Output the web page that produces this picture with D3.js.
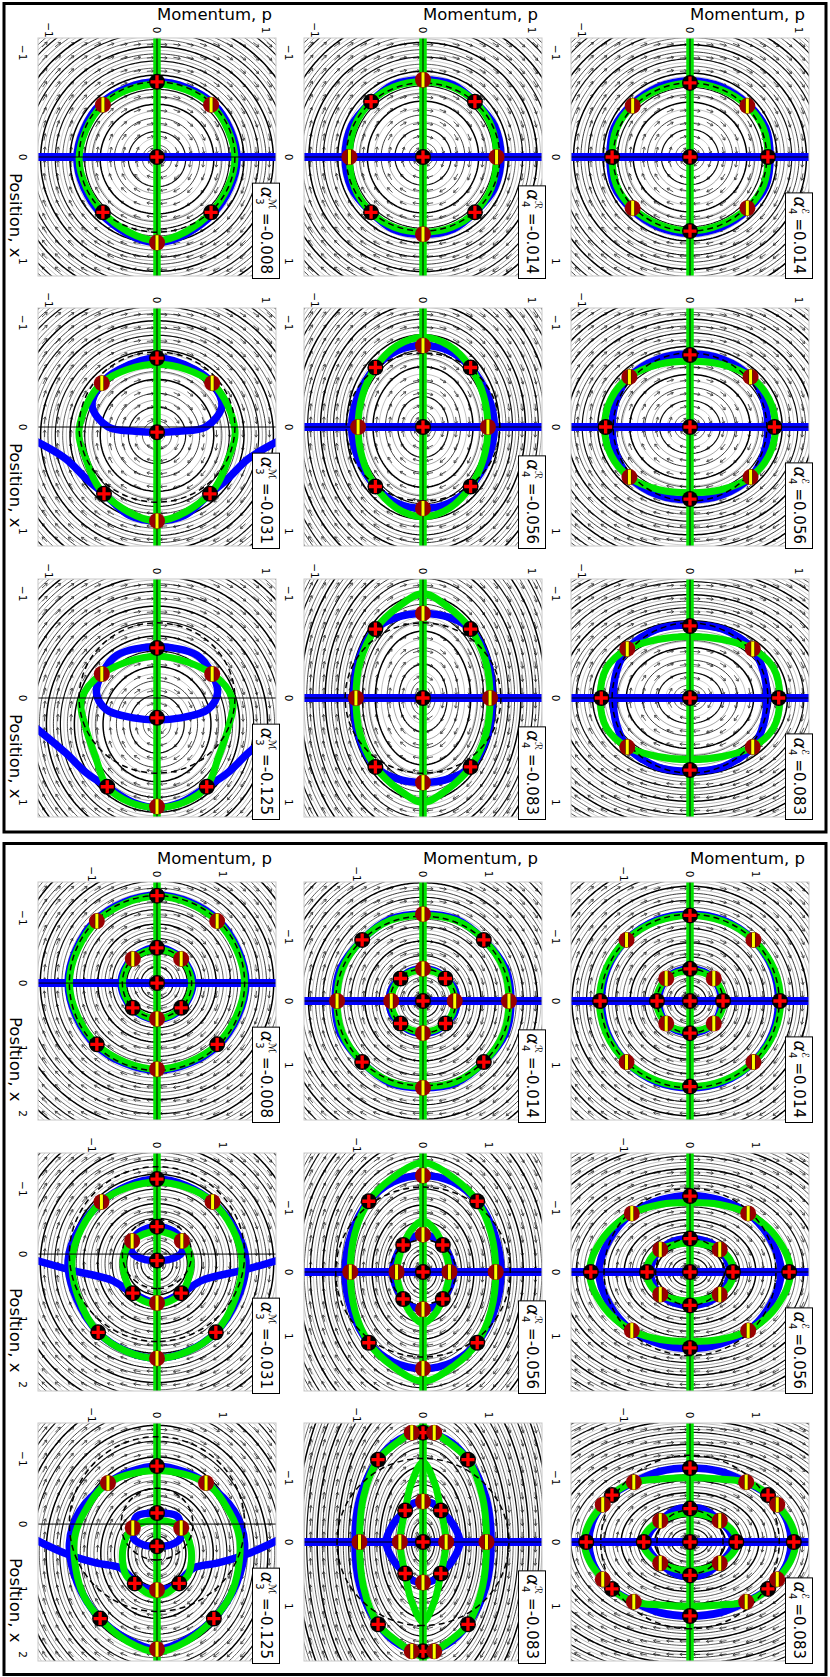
<!DOCTYPE html>
<html>
<head>
<meta charset="utf-8">
<script src="https://cdn.jsdelivr.net/npm/d3@7"></script>
<style>
  body { margin: 0; background: #fff; }
  svg text { font-family: 'DejaVu Sans', sans-serif; }
</style>
</head>
<body>
<div id="chart"></div>
<script>
// panel keys: box (1 = one ring, 2 = two rings) + kind (e, R, M) + column index
const kinds = ['e', 'R', 'M'];
const kindLetter = { e: 'ℰ', R: 'ℛ', M: 'ℳ' };
const kindSub = { e: '4', R: '4', M: '3' };
const alphaE = ['=0.014', '=0.056', '=0.083'];
const alphaR = ['=-0.014', '=-0.056', '=-0.083'];
const alphaM = ['=-0.008', '=-0.031', '=-0.125'];
const ticks = [-1, 0, 1];
const ticksWide = [-1, 0, 1, 2];

// fixed points (x, p): quadrant for e/R, upper half for M
const centerPts = {
  '1e0': [[0, 0], [0.71, 0], [0, 0.72]],
  '1e1': [[0, 0], [0.69, 0], [0, 0.78]],
  '1e2': [[0, 0], [0.69, 0], [0, 0.82]],
  '1R0': [[0, 0], [0.53, 0.48]],
  '1R1': [[0, 0], [0.57, 0.44]],
  '1R2': [[0, 0], [0.66, 0.44]],
  '1M0': [[0, 0], [-0.72, 0], [0.53, 0.5]],
  '1M1': [[0.05, 0], [-0.66, 0], [0.64, 0.49]],
  '1M2': [[0.19, 0], [-0.48, 0], [0.85, 0.46]],
  '2e0': [[0, 0], [0.5, 0], [0, 0.5], [1.33, 0], [0, 1.36]],
  '2e1': [[0, 0], [0.52, 0], [0, 0.65], [1.18, 0], [0, 1.5]],
  '2e2': [[0, 0], [0.52, 0], [0, 0.7], [1.15, 0], [0, 1.57], [0.73, 1.18]],
  '2R0': [[0, 0], [0.35, 0.34], [0.95, 0.92]],
  '2R1': [[0, 0], [0.42, 0.3], [1.1, 0.82]],
  '2R2': [[0, 0], [0.49, 0.27], [1.28, 0.68], [1.7, 0]],
  '2M0': [[0, 0], [-0.54, 0], [0.38, 0.37], [-1.34, 0], [0.94, 0.92]],
  '2M1': [[0.1, 0], [-0.42, 0], [0.6, 0.37], [-1.15, 0], [1.2, 0.9]],
  '2M2': [[0.34, 0], [-0.17, 0], [0.91, 0.34], [-0.89, 0], [1.45, 0.87]]
};
const saddlePts = {
  '1e0': [[0.49, 0.53]],
  '1e1': [[0.48, 0.56]],
  '1e2': [[0.47, 0.58]],
  '1R0': [[0.74, 0], [0, 0.68]],
  '1R1': [[0.78, 0], [0, 0.6]],
  '1R2': [[0.81, 0], [0, 0.62]],
  '1M0': [[0.82, 0], [-0.5, 0.5]],
  '1M1': [[0.9, 0], [-0.42, 0.51]],
  '1M2': [[1.04, 0], [-0.23, 0.51]],
  '2e0': [[0.35, 0.36], [0.95, 0.96]],
  '2e1': [[0.35, 0.45], [0.91, 0.88]],
  '2e2': [[0.33, 0.45], [0.93, 0.85], [0.58, 1.32]],
  '2R0': [[0.5, 0], [0, 0.48], [1.35, 0], [0, 1.3]],
  '2R1': [[0.58, 0], [0, 0.4], [1.5, 0], [0, 1.1]],
  '2R2': [[0.63, 0], [0, 0.35], [0, 0.96], [1.7, 0.17]],
  '2M0': [[-0.37, 0.37], [0.55, 0], [-0.95, 0.92], [1.32, 0]],
  '2M1': [[-0.2, 0.38], [0.75, 0], [-0.8, 0.85], [1.6, 0]],
  '2M2': [[0.06, 0.37], [1.01, 0], [-0.63, 0.75], [1.92, 0]]
};

// nullcline loops dx/dt = 0 (green) and dp/dt = 0 (blue)
const greenLoops = {
  '1e0': [[[0.71, 0], [0.65, 0.28], [0.49, 0.53], [0.27, 0.68], [0, 0.72]]],
  '1e1': [[[0.63, 0], [0.6, 0.29], [0.48, 0.56], [0.27, 0.73], [0, 0.79]]],
  '1e2': [[[0.59, 0], [0.56, 0.3], [0.47, 0.58], [0.29, 0.77], [0, 0.83]]],
  '1R0': [[[0.72, 0], [0.67, 0.27], [0.53, 0.48], [0.3, 0.63], [0, 0.68]]],
  '1R1': [[[0.86, 0], [0.78, 0.24], [0.57, 0.44], [0.3, 0.56], [0, 0.6]]],
  '1R2': [[[1.0, 0], [0.88, 0.22], [0.66, 0.44], [0.35, 0.58], [0, 0.62]]],
  '1M0': [[[-0.7, 0], [-0.5, 0.5], [0.02, 0.72], [0.53, 0.5], [0.8, 0]]],
  '1M1': [[[-0.6, 0], [-0.42, 0.51], [0.02, 0.72], [0.3, 0.66], [0.64, 0.49], [0.9, 0]]],
  '1M2': [[[-0.4, 0], [-0.23, 0.51], [0.02, 0.7], [0.28, 0.66], [0.56, 0.57], [0.85, 0.46], [1.0, 0.25], [1.05, 0]]],
  '2e0': [[[0.47, 0], [0.44, 0.2], [0.35, 0.36], [0.2, 0.46], [0, 0.51]],
          [[1.33, 0], [1.24, 0.5], [0.95, 0.96], [0.5, 1.27], [0, 1.37]]],
  '2e1': [[[0.45, 0], [0.42, 0.25], [0.35, 0.45], [0.2, 0.6], [0, 0.66]],
          [[1.08, 0], [1.05, 0.45], [0.91, 0.88], [0.55, 1.3], [0, 1.52]]],
  '2e2': [[[0.45, 0], [0.42, 0.22], [0.33, 0.45], [0.18, 0.64], [0, 0.72]],
          [[1.0, 0], [0.98, 0.45], [0.93, 0.85], [0.74, 1.18], [0.58, 1.32], [0.3, 1.52], [0, 1.6]]],
  '2R0': [[[0.48, 0], [0.45, 0.18], [0.35, 0.34], [0.18, 0.45], [0, 0.48]],
          [[1.33, 0], [1.25, 0.5], [0.95, 0.92], [0.5, 1.22], [0, 1.3]]],
  '2R1': [[[0.8, 0], [0.65, 0.18], [0.42, 0.3], [0.2, 0.37], [0, 0.4]],
          [[1.7, 0], [1.45, 0.48], [1.1, 0.82], [0.6, 1.03], [0, 1.1]]],
  '2R2': [[[1.24, 0], [0.9, 0.18], [0.49, 0.27], [0.25, 0.32], [0, 0.35]],
          [[1.78, 0], [1.7, 0.17], [1.5, 0.45], [1.28, 0.68], [0.7, 0.9], [0, 0.96]]],
  '2M0': [[[-0.52, 0], [-0.37, 0.37], [0, 0.53], [0.38, 0.37], [0.55, 0]],
          [[-1.33, 0], [-0.95, 0.92], [0, 1.34], [0.94, 0.92], [1.32, 0]]],
  '2M1': [[[-0.35, 0], [-0.2, 0.38], [0.1, 0.52], [0.6, 0.37], [0.77, 0]],
          [[-1.1, 0], [-0.8, 0.85], [0.1, 1.3], [1.2, 0.9], [1.6, 0]]],
  '2M2': [[[-0.06, 0], [0.06, 0.37], [0.37, 0.52], [0.77, 0.48], [0.91, 0.34], [1.06, 0.15], [1.1, 0]],
          [[-0.82, 0], [-0.63, 0.75], [-0.2, 1.1], [0.2, 1.26], [0.7, 1.24], [1.1, 1.12], [1.45, 0.87], [1.8, 0.45], [1.96, 0]]]
};
const blueLoops = {
  '1e0': [[[0.73, 0], [0.67, 0.29], [0.5, 0.54], [0.28, 0.7], [0, 0.74]]],
  '1e1': [[[0.7, 0], [0.65, 0.3], [0.48, 0.56], [0.26, 0.68], [0, 0.72]]],
  '1e2': [[[0.7, 0], [0.66, 0.3], [0.47, 0.58], [0.25, 0.68], [0, 0.71]]],
  '1R0': [[[0.74, 0], [0.69, 0.28], [0.53, 0.48], [0.3, 0.66], [0, 0.72]]],
  '1R1': [[[0.78, 0], [0.73, 0.24], [0.57, 0.44], [0.3, 0.6], [0, 0.66]]],
  '1R2': [[[0.81, 0], [0.77, 0.25], [0.66, 0.44], [0.35, 0.6], [0, 0.64]]],
  '1M0': [[[-0.72, 0], [-0.51, 0.52], [0.02, 0.74], [0.54, 0.52], [0.82, 0]]],
  '1M1': [[[-0.66, 0], [-0.55, 0.35], [-0.42, 0.51], [-0.2, 0.6], [0, 0.45], [0.04, 0.2], [0.05, 0]]],
  '1M2': [[[-0.49, 0], [-0.41, 0.37], [-0.23, 0.51], [-0.05, 0.56], [0.11, 0.47], [0.19, 0.22], [0.21, 0]]],
  '2e0': [[[0.5, 0], [0.46, 0.2], [0.35, 0.36], [0.2, 0.44], [0, 0.48]],
          [[1.35, 0], [1.26, 0.5], [0.95, 0.96], [0.5, 1.25], [0, 1.34]]],
  '2e1': [[[0.52, 0], [0.48, 0.24], [0.35, 0.45], [0.18, 0.56], [0, 0.6]],
          [[1.19, 0], [1.12, 0.45], [0.91, 0.88], [0.5, 1.22], [0, 1.38]]],
  '2e2': [[[0.54, 0], [0.5, 0.22], [0.33, 0.45], [0.16, 0.6], [0, 0.66]],
          [[1.15, 0], [1.1, 0.45], [0.93, 0.85], [0.76, 1.14], [0.58, 1.32], [0.3, 1.48], [0, 1.53]]],
  '2R0': [[[0.5, 0], [0.46, 0.2], [0.35, 0.34], [0.2, 0.47], [0, 0.51]],
          [[1.35, 0], [1.27, 0.5], [0.95, 0.92], [0.5, 1.25], [0, 1.33]]],
  '2R1': [[[0.58, 0], [0.54, 0.17], [0.42, 0.3], [0.2, 0.42], [0, 0.46]],
          [[1.5, 0], [1.4, 0.45], [1.1, 0.82], [0.6, 1.08], [0, 1.18]]],
  '2R2': [[[0.63, 0], [0.6, 0.15], [0.49, 0.27], [0.28, 0.45], [0, 0.56]],
          [[1.7, 0], [1.6, 0.35], [1.28, 0.68], [0.7, 0.95], [0, 1.03]]],
  '2M0': [[[-0.54, 0], [-0.38, 0.38], [0, 0.55], [0.39, 0.38], [0.56, 0]],
          [[-1.35, 0], [-0.96, 0.94], [0, 1.36], [0.95, 0.94], [1.34, 0]]],
  '2M1': [[[-0.42, 0], [-0.35, 0.25], [-0.2, 0.38], [-0.02, 0.38], [0.08, 0.2], [0.1, 0]],
          [[-1.15, 0], [-0.8, 0.85], [0.1, 1.36], [1.2, 0.9], [1.6, 0]]],
  '2M2': [[[-0.17, 0], [-0.12, 0.31], [0.06, 0.37], [0.22, 0.36], [0.32, 0.2], [0.34, 0]],
          [[-0.89, 0], [-0.8, 0.42], [-0.63, 0.75], [-0.2, 1.18], [0.3, 1.34], [0.9, 1.22], [1.45, 0.87], [1.75, 0.48], [1.92, 0]]]
};
// open dp/dt = 0 branches (upper half, from the plot edge to the axis)
const blueOpen = {
  '1M1': [[[0.12, 1.15], [0.3, 0.85], [0.5, 0.65], [0.64, 0.49], [0.85, 0.25], [0.9, 0]]],
  '1M2': [[[0.26, 1.15], [0.53, 0.84], [0.72, 0.65], [0.85, 0.46], [1.0, 0.22], [1.05, 0]]],
  '2M1': [[[0.08, 1.9], [0.25, 1.3], [0.4, 0.7], [0.6, 0.37], [0.75, 0]]],
  '2M2': [[[0.22, 1.9], [0.46, 1.38], [0.6, 0.92], [0.67, 0.57], [0.83, 0.39], [0.91, 0.34], [1.01, 0]]]
};
// panels whose dp/dt = 0 set contains the straight line x = 0
const blueAxis = ['1e0', '1e1', '1e2', '1R0', '1R1', '1R2', '1M0', '2e0', '2e1', '2e2', '2R0', '2R1', '2R2', '2M0'];
const dashRadii = {
  '1e0': [0.71], '1e1': [0.71], '1e2': [0.72], '1R0': [0.71], '1R1': [0.71], '1R2': [0.72],
  '1M0': [0.72], '1M1': [0.72], '1M2': [0.72],
  '2e0': [0.5, 1.35], '2e1': [0.52, 1.3], '2e2': [0.5, 1.35], '2R0': [0.5, 1.32], '2R1': [0.5, 1.32], '2R2': [1.3],
  '2M0': [0.53, 1.34], '2M1': [0.53, 1.34], '2M2': [0.55, 1.34]
};
// flow shape: centre x0, stretch along x, stretch along p
const flowShape = {
  '1e0': [0, 1, 1], '1e1': [0, 0.96, 1.06], '1e2': [0, 0.92, 1.12],
  '1R0': [0, 1.02, 0.98], '1R1': [0, 1.1, 0.88], '1R2': [0, 1.22, 0.84],
  '1M0': [0.02, 1, 1], '1M1': [0.08, 1.02, 1], '1M2': [0.25, 1.05, 0.95],
  '2e0': [0, 1, 1], '2e1': [0, 0.9, 1.1], '2e2': [0, 0.85, 1.15],
  '2R0': [0, 1.03, 0.97], '2R1': [0, 1.15, 0.85], '2R2': [0, 1.3, 0.72],
  '2M0': [0, 1, 1], '2M1': [0.15, 1.02, 1], '2M2': [0.45, 1.1, 0.95]
};

// ---- layout (drawn landscape, then turned a quarter clockwise) ----
const size = 238;
const colLeft = { 1: [38, 308, 579], 2: [882, 1153, 1423] };
const rowTop = { e: 21, R: 288, M: 554 };
const green = '#00e600', blue = '#0000ff';

const svg = d3.select('#chart').append('svg')
  .attr('width', 830)
  .attr('height', 1677);
const root = svg.append('g').attr('transform', 'translate(830,0) rotate(90)');

root.append('rect').attr('x', 3.5).attr('y', 4).attr('width', 828.5).attr('height', 822)
  .attr('fill', 'none').attr('stroke', '#000').attr('stroke-width', 3);
root.append('rect').attr('x', 843.5).attr('y', 4).attr('width', 831).attr('height', 822)
  .attr('fill', 'none').attr('stroke', '#000').attr('stroke-width', 3);

function domains(box, kind) {
  if (box === 1) return [[-1.14, 1.14], [-1.1, 1.1]];
  if (kind === 'M') return [[-1.55, 2.1], [-1.82, 1.82]];
  return [[-1.85, 1.85], [-1.8, 1.8]];
}

function mirrorPts(pts, quad) {
  const out = [], seen = new Set();
  const add = (x, p) => {
    const k = x.toFixed(3) + ',' + p.toFixed(3);
    if (!seen.has(k)) { seen.add(k); out.push([x, p]); }
  };
  pts.forEach(([x, p]) => {
    add(x, p); add(x, -p);
    if (quad) { add(-x, p); add(-x, -p); }
  });
  return out;
}
function loopQuad(q) {
  const m = q.length;
  return [...q,
    ...q.slice(0, m - 1).reverse().map(([x, p]) => [-x, p]),
    ...q.slice(1).map(([x, p]) => [-x, -p]),
    ...q.slice(1, m - 1).reverse().map(([x, p]) => [x, -p])];
}
const loopHalf = h => [...h, ...h.slice(1, -1).reverse().map(([x, p]) => [x, -p])];
const openHalf = h => [...h, ...h.slice(0, -1).reverse().map(([x, p]) => [x, -p])];

let clipId = 0;

function drawPanel(box, kind, col) {
  const key = `${box}${kind}${col}`;
  const quad = kind !== 'M';
  const left = colLeft[box][col], top = rowTop[kind];
  const [xd, pd] = domains(box, kind);
  const xs = d3.scaleLinear().domain(xd).range([left, left + size]);
  const ps = d3.scaleLinear().domain(pd).range([top + size, top]);
  const g = root.append('g');

  const cid = `clip-${clipId++}`;
  svg.append('defs').append('clipPath').attr('id', cid)
    .append('rect').attr('x', left).attr('y', top).attr('width', size).attr('height', size);
  const inner = g.append('g').attr('clip-path', `url(#${cid})`);

  // flow function
  const [fx0, fax, fap] = flowShape[key];
  const S = (x, p) => Math.hypot((x - fx0) / fax, p / fap);

  // quiver arrows
  const nq = 18, L = 7;
  const kx = size / (xd[1] - xd[0]), kp = size / (pd[1] - pd[0]);
  let qpath = '';
  for (let i = 0; i < nq; i++) {
    for (let j = 0; j < nq; j++) {
      const px = left + (i + 0.5) * size / nq, py = top + (j + 0.5) * size / nq;
      const x = xs.invert(px), p = ps.invert(py), h = 1e-3;
      const gx = (S(x + h, p) - S(x - h, p)) / (2 * h);
      const gp = (S(x, p + h) - S(x, p - h)) / (2 * h);
      let vx = gp * kx, vy = gx * kp;
      const n = Math.hypot(vx, vy) || 1;
      vx = vx / n * L; vy = vy / n * L;
      const tx = px - vx / 2, ty = py - vy / 2;
      const hx = px + vx / 2, hy = py + vy / 2;
      const a = Math.atan2(vy, vx);
      const b1 = a + Math.PI * 0.82, b2 = a - Math.PI * 0.82;
      qpath += `M${tx.toFixed(1)},${ty.toFixed(1)}L${hx.toFixed(1)},${hy.toFixed(1)}` +
        `M${(hx + 2.8 * Math.cos(b1)).toFixed(1)},${(hy + 2.8 * Math.sin(b1)).toFixed(1)}L${hx.toFixed(1)},${hy.toFixed(1)}` +
        `L${(hx + 2.8 * Math.cos(b2)).toFixed(1)},${(hy + 2.8 * Math.sin(b2)).toFixed(1)}`;
    }
  }
  inner.append('path').attr('d', qpath).attr('fill', 'none')
    .attr('stroke', '#404040').attr('stroke-width', 0.9);

  // streamlines as level lines of the flow function
  const nx = 110, ny = 110;
  const mx = 0.06 * (xd[1] - xd[0]), mp = 0.06 * (pd[1] - pd[0]);
  const xlo = xd[0] - mx, xhi = xd[1] + mx, plo = pd[0] - mp, phi = pd[1] + mp;
  const dx = (xhi - xlo) / (nx - 1), dp = (phi - plo) / (ny - 1);
  const values = new Array(nx * ny);
  for (let j = 0; j < ny; j++) for (let i = 0; i < nx; i++) values[j * nx + i] = S(xlo + i * dx, phi - j * dp);
  const levels = box === 1
    ? [...d3.range(0.07, 0.6, 0.065), ...d3.range(0.6, 2.4, 0.034)]
    : [...d3.range(0.08, 3.4, 0.055)];
  const proj = d3.geoTransform({
    point(cx, cy) { this.stream.point(xs(xlo + (cx - 0.5) * dx), ps(phi - (cy - 0.5) * dp)); }
  });
  const gpath = d3.geoPath(proj);
  const widths = [0.5, 0.8, 0.45, 1.2, 0.6, 0.9, 0.5, 1.5];
  const alphas = [0.5, 0.8, 0.45, 0.95, 0.6, 0.85, 0.5, 1];
  inner.append('g').selectAll('path')
    .data(d3.contours().size([nx, ny]).thresholds(levels)(values))
    .enter().append('path')
      .attr('d', gpath)
      .attr('fill', 'none')
      .attr('stroke', '#000')
      .attr('stroke-width', (d, i) => widths[i % widths.length])
      .attr('stroke-opacity', (d, i) => alphas[i % alphas.length]);

  const closed = d3.line().x(d => xs(d[0])).y(d => ps(d[1])).curve(d3.curveCatmullRomClosed.alpha(0.5));
  const open = d3.line().x(d => xs(d[0])).y(d => ps(d[1])).curve(d3.curveCatmullRom.alpha(0.5));

  // dp/dt = 0 (blue)
  const bl = inner.append('g').attr('fill', 'none').attr('stroke', blue)
    .attr('stroke-width', 7.5).attr('stroke-linejoin', 'round');
  if (blueAxis.includes(key)) {
    bl.append('line').attr('x1', xs(0)).attr('x2', xs(0)).attr('y1', top - 5).attr('y2', top + size + 5)
      .attr('stroke-width', 8);
  }
  (blueLoops[key] || []).forEach(c => bl.append('path').attr('d', closed(quad ? loopQuad(c) : loopHalf(c))));
  (blueOpen[key] || []).forEach(c => bl.append('path').attr('d', open(openHalf(c))));

  // dx/dt = 0 (green)
  const gl = inner.append('g').attr('fill', 'none').attr('stroke', green)
    .attr('stroke-width', 7).attr('stroke-linejoin', 'round');
  gl.append('line').attr('x1', left - 5).attr('x2', left + size + 5).attr('y1', ps(0)).attr('y2', ps(0))
    .attr('stroke-width', 7.5);
  (greenLoops[key] || []).forEach(c => gl.append('path').attr('d', closed(quad ? loopQuad(c) : loopHalf(c))));

  // dashed reference circles
  inner.append('g').selectAll('ellipse').data(dashRadii[key]).enter().append('ellipse')
    .attr('cx', xs(0)).attr('cy', ps(0))
    .attr('rx', r => xs(r) - xs(0)).attr('ry', r => ps(0) - ps(r))
    .attr('fill', 'none').attr('stroke', '#000').attr('stroke-width', 1.5)
    .attr('stroke-dasharray', '6,4');

  // zero lines
  inner.append('line').attr('x1', left).attr('x2', left + size).attr('y1', ps(0)).attr('y2', ps(0))
    .attr('stroke', '#000').attr('stroke-width', 1);
  inner.append('line').attr('x1', xs(0)).attr('x2', xs(0)).attr('y1', top).attr('y2', top + size)
    .attr('stroke', '#000').attr('stroke-width', 1);

  // frame
  g.append('rect').attr('x', left).attr('y', top).attr('width', size).attr('height', size)
    .attr('fill', 'none').attr('stroke', '#c8c8c8').attr('stroke-width', 1);

  // fixed points
  const cg = g.append('g').selectAll('g').data(mirrorPts(centerPts[key], quad)).enter().append('g')
    .attr('transform', d => `translate(${xs(d[0])},${ps(d[1])})`);
  cg.append('circle').attr('r', 8).attr('fill', '#000');
  cg.append('path').attr('d', 'M-6.5,0H6.5M0,-6.5V6.5').attr('stroke', '#ff0000').attr('stroke-width', 3.3);

  const sg = g.append('g').selectAll('g').data(mirrorPts(saddlePts[key], quad)).enter().append('g')
    .attr('transform', d => `translate(${xs(d[0])},${ps(d[1])})`);
  sg.append('circle').attr('r', 8).attr('fill', '#990000');
  sg.append('path').attr('d', 'M-7.4,0H7.4').attr('stroke', '#3a1a00').attr('stroke-width', 4.2);
  sg.append('path').attr('d', 'M-7.4,0H7.4').attr('stroke', '#ffff00').attr('stroke-width', 3);

  // tick labels
  const xt = box === 2 && kind === 'M' ? ticksWide : ticks;
  g.append('g').selectAll('text').data(xt).enter().append('text')
    .attr('x', d => xs(d)).attr('y', top + size + 19)
    .attr('text-anchor', 'middle').attr('font-size', 10.5)
    .text(d => d < 0 ? '\u2212' + Math.abs(d) : d);
  g.append('g').selectAll('text').data(ticks).enter().append('text')
    .attr('x', left - 8).attr('y', d => ps(d)).attr('dy', '0.35em')
    .attr('text-anchor', 'middle').attr('font-size', 10.5)
    .text(d => d < 0 ? '\u2212' + Math.abs(d) : d);

  // axis titles
  if (col === 0) {
    g.append('text').attr('transform', `translate(${left - 18},${top + size / 2}) rotate(-90)`)
      .attr('font-size', 16.5).text('Momentum, p');
  }
  if (kind === 'M') {
    g.append('text').attr('x', left + size / 2 + 16).attr('y', top + size + 28)
      .attr('font-size', 16.5).text('Position, x');
  }

  // parameter label
  const val = { e: alphaE, R: alphaR, M: alphaM }[kind][col];
  const lg = g.append('g');
  const ta = lg.append('text').attr('x', 4).attr('y', 19)
    .attr('font-family', 'DejaVu Serif').attr('font-style', 'italic').attr('font-size', 17).text('α');
  const wa = ta.node().getComputedTextLength();
  const tsub = lg.append('text').attr('x', 4 + wa + 0.5).attr('y', 24).attr('font-size', 10).text(kindSub[kind]);
  const tsup = lg.append('text').attr('x', 4 + wa + 0.5).attr('y', 11)
    .attr('font-family', 'DejaVu Serif').attr('font-style', 'italic').attr('font-size', 10).text(kindLetter[kind]);
  const ws = Math.max(tsub.node().getComputedTextLength(), tsup.node().getComputedTextLength());
  const tv = lg.append('text').attr('x', 4 + wa + 0.5 + ws + 4).attr('y', 19).attr('font-size', 15).text(val);
  const w = 4 + wa + 0.5 + ws + 4 + tv.node().getComputedTextLength() + 4;
  lg.insert('rect', 'text').attr('x', 0.5).attr('y', 0.5).attr('width', w).attr('height', 27)
    .attr('fill', '#fff').attr('stroke', '#000').attr('stroke-width', 1);
  lg.attr('transform', `translate(${left + size + 2 - w},${top - 4})`);
}

[1, 2].forEach(box => kinds.forEach(kind => [0, 1, 2].forEach(col => drawPanel(box, kind, col))));
</script>
</body>
</html>
